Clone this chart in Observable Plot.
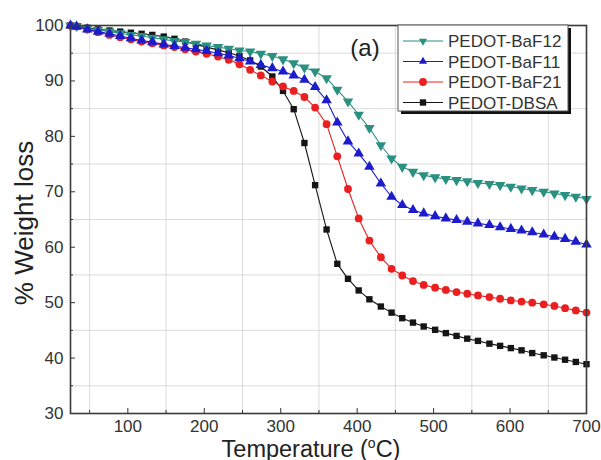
<!DOCTYPE html>
<html><head><meta charset="utf-8">
<script src="https://cdn.jsdelivr.net/npm/d3@7"></script>
<script src="https://cdn.jsdelivr.net/npm/@observablehq/plot@0.6"></script>
<style>html,body{margin:0;padding:0;background:#fff;} svg{display:block}</style>
</head><body><div id="chart"></div>
<script>
const temperature = [25, 33, 47, 61, 76, 90, 104, 118, 132, 147, 161, 175, 189, 203, 218, 232, 246, 260, 274, 289, 303, 317, 331, 345, 360, 374, 388, 402, 416, 431, 445, 459, 473, 487, 502, 516, 530, 544, 558, 573, 587, 601, 615, 629, 644, 658, 672, 686, 700];
const bafl12 = [100, 99.9, 99.5, 99.2, 98.9, 98.6, 98.3, 98.1, 97.8, 97.5, 97.2, 97.0, 96.7, 96.4, 96.1, 95.8, 95.5, 95.3, 94.9, 94.5, 93.9, 93.2, 92.4, 91.7, 90.5, 88.4, 86.3, 83.9, 81.5, 78.4, 76.0, 74.5, 73.6, 73.0, 72.6, 72.3, 72.1, 71.9, 71.6, 71.4, 71.2, 70.9, 70.6, 70.3, 70.0, 69.7, 69.4, 69.1, 68.7];
const baf11 = [100, 99.8, 99.3, 98.9, 98.5, 98.1, 97.7, 97.3, 97.0, 96.6, 96.3, 96.0, 95.7, 95.4, 95.0, 94.6, 94.1, 93.5, 92.9, 92.3, 91.7, 91.0, 90.2, 88.9, 86.5, 82.5, 79.1, 76.9, 74.5, 71.5, 69.1, 67.6, 66.7, 66.1, 65.6, 65.2, 64.9, 64.6, 64.3, 64.0, 63.6, 63.3, 63.0, 62.7, 62.3, 61.9, 61.5, 61.0, 60.5];
const baf21 = [100, 99.8, 99.3, 98.8, 98.3, 97.9, 97.5, 97.1, 96.8, 96.4, 96.1, 95.7, 95.3, 94.9, 94.4, 93.8, 93.0, 92.0, 91.0, 89.9, 89.0, 88.2, 87.1, 85.2, 82.2, 76.4, 70.5, 65.2, 61.2, 58.2, 56.1, 54.9, 53.9, 53.2, 52.7, 52.3, 51.9, 51.6, 51.3, 51.0, 50.7, 50.4, 50.2, 50.0, 49.7, 49.4, 49.0, 48.6, 48.2];
const dbsa = [100, 99.9, 99.6, 99.3, 99.1, 98.9, 98.7, 98.5, 98.3, 98.0, 97.6, 97.1, 96.6, 96.1, 95.6, 95.1, 94.5, 93.7, 92.6, 90.8, 88.2, 84.9, 78.8, 71.2, 63.2, 57.0, 54.3, 52.2, 50.6, 49.3, 48.2, 47.2, 46.4, 45.7, 45.1, 44.5, 44.0, 43.5, 43.1, 42.6, 42.2, 41.8, 41.4, 40.9, 40.5, 40.1, 39.7, 39.3, 38.9];
const seriesNames = ["PEDOT-BaF12", "PEDOT-BaF11", "PEDOT-BaF21", "PEDOT-DBSA"];
const xTicks = [100, 200, 300, 400, 500, 600, 700];
const xMinor = [50, 150, 250, 350, 450, 550, 650];
const yTicks = [30, 40, 50, 60, 70, 80, 90, 100];
const yMinor = [35, 45, 55, 65, 75, 85, 95];

const styles = {
  "PEDOT-BaF12": {values: bafl12, color: "#2a9080", symbol: "triangle", rotate: 180},
  "PEDOT-BaF11": {values: baf11, color: "#1c1ccc", symbol: "triangle", rotate: 0},
  "PEDOT-BaF21": {values: baf21, color: "#ea2020", symbol: "circle", rotate: 0},
  "PEDOT-DBSA": {values: dbsa, color: "#151515", symbol: "square", rotate: 0}
};
const drawOrder = ["PEDOT-DBSA", "PEDOT-BaF21", "PEDOT-BaF12", "PEDOT-BaF11"];

const seriesMarks = drawOrder.flatMap(name => {
  const s = styles[name];
  const rows = temperature.map((t, i) => ({T: t, W: s.values[i]}));
  return [
    Plot.line(rows, {x: "T", y: "W", stroke: s.color, strokeWidth: 1.1}),
    Plot.dot(rows, {x: "T", y: "W", symbol: s.symbol, rotate: s.rotate, fill: s.color, stroke: "none", r: s.symbol === "square" ? 3.6 : 3.9})
  ];
});

const plot = Plot.plot({
  width: 601, height: 460,
  marginLeft: 70, marginRight: 15, marginTop: 25, marginBottom: 47,
  style: {fontFamily: "'Liberation Sans', Arial, sans-serif", fontSize: "17px", color: "#333", background: "#fff"},
  x: {domain: [25, 700]},
  y: {domain: [30, 100]},
  marks: [
    Plot.gridX(xMinor, {stroke: "#ccc", strokeOpacity: 0.7}),
    Plot.gridY(yMinor, {stroke: "#ccc", strokeOpacity: 0.7}),
    ...seriesMarks,
    Plot.axisX({ticks: xMinor, tickSize: -3, tickFormat: () => "", label: null, stroke: "#333"}),
    Plot.axisY({ticks: yMinor, tickSize: -3, tickFormat: () => "", label: null, stroke: "#333"}),
    Plot.axisX({ticks: xTicks, tickSize: -5, tickPadding: 11, label: null, stroke: "#333", fill: "#333", fontSize: 17}),
    Plot.axisY({ticks: yTicks, tickSize: -5, tickPadding: 12, label: null, stroke: "#333", fill: "#333", fontSize: 17}),
    Plot.frame({stroke: "#3a3a3a", strokeWidth: 1.6})
  ]
});
document.getElementById("chart").appendChild(plot);

const svg = d3.select(plot);
const xs = plot.scale("x"), ys = plot.scale("y");
const pRight = xs.range[1], pTop = ys.range[1], pBottom = ys.range[0];
const font = "'Liberation Sans', Arial, sans-serif";

// axis titles
const xt = svg.append("text").attr("x", 311).attr("y", 456.5).attr("text-anchor", "middle")
  .attr("font-family", font).attr("font-size", 23.5).attr("fill", "#222");
xt.append("tspan").text("Temperature (");
xt.append("tspan").attr("dy", -9).attr("font-size", 14).text("o");
xt.append("tspan").attr("dy", 9).text("C)");
svg.append("text").attr("transform", `translate(33,${(pTop + pBottom) / 2 + 4}) rotate(-90)`)
  .attr("text-anchor", "middle").attr("font-family", font).attr("font-size", 26).attr("fill", "#222")
  .text("% Weight loss");

// panel tag
svg.append("text").attr("x", pRight - 221).attr("y", pTop + 31).attr("text-anchor", "middle")
  .attr("font-family", font).attr("font-size", 24).attr("fill", "#222").text("(a)");

// legend
const lx = pRight - 188, ly = pTop, lw = 170, lh = 86;
const lg = svg.append("g");
lg.append("rect").attr("x", lx + 3).attr("y", ly + 3).attr("width", lw).attr("height", lh).attr("fill", "#111");
lg.append("rect").attr("x", lx).attr("y", ly).attr("width", lw).attr("height", lh).attr("fill", "#fff").attr("stroke", "#555").attr("stroke-width", 1);
const symMap = {triangle: d3.symbolTriangle2, circle: d3.symbolCircle, square: d3.symbolSquare};
seriesNames.forEach((name, i) => {
  const s = styles[name];
  const y = ly + 16 + i * 20.5;
  lg.append("line").attr("x1", lx + 5).attr("x2", lx + 45).attr("y1", y).attr("y2", y).attr("stroke", s.color).attr("stroke-width", 1.1);
  const r = s.symbol === "square" ? 3.6 : 3.9;
  lg.append("path").attr("d", d3.symbol(symMap[s.symbol], Math.PI * r * r)())
    .attr("transform", `translate(${lx + 25},${y}) rotate(${s.rotate})`).attr("fill", s.color);
  lg.append("text").attr("x", lx + 50).attr("y", y).attr("dy", "0.36em").attr("text-anchor", "start")
    .attr("font-family", font).attr("font-size", 17).attr("fill", "#333").text(name);
});
</script>
</body></html>
